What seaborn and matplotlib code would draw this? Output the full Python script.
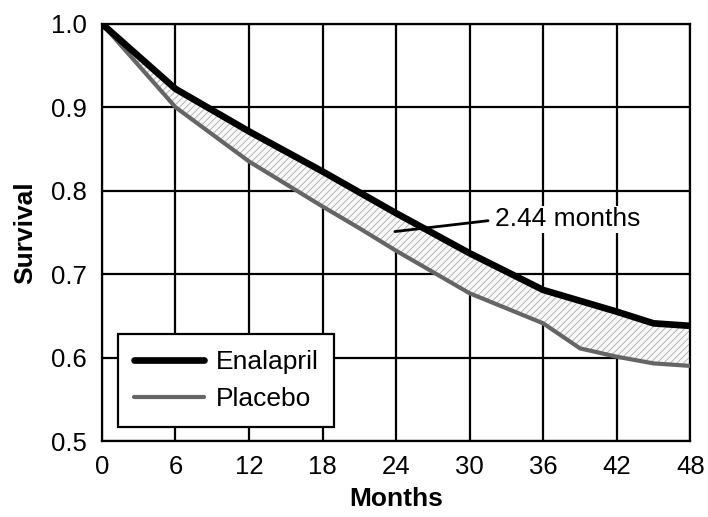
"""Kaplan-Meier style survival curves: Enalapril vs Placebo, with shaded gain."""
import numpy as np
import pandas as pd
import seaborn as sns
import matplotlib.pyplot as plt

# data
enal_months = [0, 6, 12, 18, 24, 30, 36, 42, 45, 48]
enal_surv = [1.0, 0.922, 0.871, 0.823, 0.773, 0.725, 0.681, 0.655, 0.641, 0.638]
plac_months = [0, 3, 6, 12, 18, 21, 24, 30, 36, 39, 42, 45, 48]
plac_surv = [1.0, 0.95, 0.90, 0.835, 0.781, 0.755, 0.728, 0.677, 0.641, 0.611, 0.601, 0.593, 0.590]
x_ticks = [0, 6, 12, 18, 24, 30, 36, 42, 48]
y_ticks = [0.5, 0.6, 0.7, 0.8, 0.9, 1.0]

enal = pd.DataFrame({"Months": enal_months, "Survival": enal_surv, "group": "Enalapril"})
plac = pd.DataFrame({"Months": plac_months, "Survival": plac_surv, "group": "Placebo"})

sns.set_style("white")
plt.rcParams["font.family"] = ["Liberation Sans", "DejaVu Sans"]
plt.rcParams["text.color"] = "black"
plt.rcParams["axes.labelcolor"] = "black"
plt.rcParams["xtick.color"] = "black"
plt.rcParams["ytick.color"] = "black"
plt.rcParams["hatch.color"] = "#ababab"
plt.rcParams["hatch.linewidth"] = 0.6

fig = plt.figure(figsize=(7.08, 5.17), dpi=100)
ax = fig.add_axes([0.144, 0.147, 0.831, 0.807])

# shaded area between the two curves
grid = np.union1d(enal_months, plac_months)
upper = np.interp(grid, enal_months, enal_surv)
lower = np.interp(grid, plac_months, plac_surv)
ax.fill_between(grid, lower, upper, facecolor="#f8f8f8", edgecolor="#ababab",
                hatch="/////", linewidth=0, zorder=2)

sns.lineplot(data=enal, x="Months", y="Survival", color="black", lw=4.8,
             label="Enalapril", ax=ax, zorder=4)
sns.lineplot(data=plac, x="Months", y="Survival", color="#656565", lw=3,
             label="Placebo", ax=ax, zorder=3)

ax.set_xlim(0, 48)
ax.set_ylim(0.5, 1.0)
ax.set_xticks(x_ticks)
ax.set_yticks(y_ticks)
ax.set_yticklabels([f"{v:.1f}" for v in y_ticks])
ax.grid(True, color="black", lw=1.6)
ax.set_axisbelow(True)
for s in ax.spines.values():
    s.set_color("black")
    s.set_linewidth(1.6)
ax.tick_params(axis="both", labelsize=18.5, length=5, width=1.6, color="black", direction="out")
ax.tick_params(axis="x", pad=5)
ax.tick_params(axis="y", pad=6)

ax.set_xlabel("Months", fontsize=19, fontweight="bold", labelpad=6)
ax.set_ylabel("Survival", fontsize=19, fontweight="bold", labelpad=10)

# annotation: leader line and label
ax.annotate("", xy=(23.9, 0.751), xytext=(31.5, 0.764),
            arrowprops=dict(arrowstyle="-", color="black", lw=2, shrinkA=0, shrinkB=0),
            zorder=6)
ax.text(32.1, 0.7655, "2.44 months", fontsize=19, va="center", ha="left",
        bbox=dict(boxstyle="square,pad=0.05", fc="white", ec="none"), zorder=6)

leg = ax.legend(loc="lower left", bbox_to_anchor=(0.027, 0.034), fontsize=19,
                frameon=True, fancybox=False, handlelength=2.65, borderpad=0.6,
                labelspacing=0.5, handletextpad=0.45, borderaxespad=0)
leg.get_frame().set_edgecolor("black")
leg.get_frame().set_linewidth(1.6)
leg.get_frame().set_alpha(1)
leg.set_zorder(7)

plt.savefig("out.png", dpi=100)
